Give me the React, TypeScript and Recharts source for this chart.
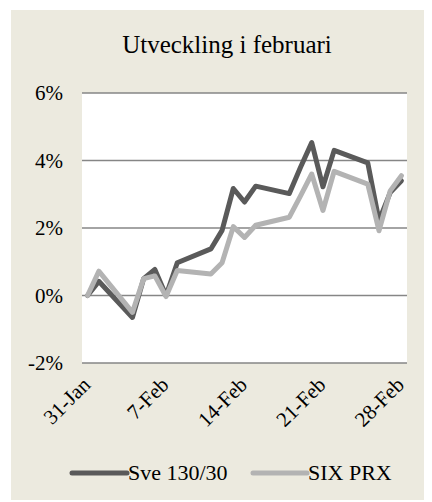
import React from "react";
import { LineChart, Line, XAxis, YAxis, CartesianGrid, Legend, Customized } from "recharts";

// Trading days in February 2008, as day offsets from 31-Jan
const dayOffsets = [0, 1, 4, 5, 6, 7, 8, 11, 12, 13, 14, 15, 18, 19, 20, 21, 22, 25, 26, 27, 28];
const sveValues = [0, 0.42, -0.65, 0.5, 0.77, 0.0, 0.97, 1.38, 1.93, 3.17, 2.77, 3.24, 3.02, 3.8, 4.53, 3.22, 4.3, 3.93, 2.22, 3.05, 3.4];
const sixValues = [0, 0.72, -0.5, 0.5, 0.58, -0.03, 0.74, 0.64, 0.97, 2.04, 1.72, 2.08, 2.32, 2.95, 3.6, 2.52, 3.68, 3.3, 1.92, 3.1, 3.55];
const xTickDays = [0, 7, 14, 21, 28];
const xTickLabels = ["31-Jan", "7-Feb", "14-Feb", "21-Feb", "28-Feb"];
const yTicks = [-2, 0, 2, 4, 6];
const seriesNames = ["Sve 130/30", "SIX PRX"];

const data = dayOffsets.map((d, i) => ({ day: d, sve: sveValues[i], six: sixValues[i] }));

const FONT = "'Liberation Serif', 'Times New Roman', serif";
const DARK = "#5a5a5a";
const LIGHT = "#b3b3b3";
const serif = { fontFamily: FONT };

const XTick = (props: any) => {
  const { x, y, payload } = props;
  const idx = xTickDays.indexOf(payload.value);
  return (
    <text
      x={x + 4}
      y={y + 23}
      transform={`rotate(-45, ${x + 4}, ${y + 23})`}
      textAnchor="end"
      style={serif}
      fontSize={21}
      fill="#000"
    >
      {idx >= 0 ? xTickLabels[idx] : ""}
    </text>
  );
};

const YTick = (props: any) => {
  const { x, y, payload } = props;
  return (
    <text x={x} y={y} dy="0.35em" textAnchor="end" style={serif} fontSize={21} fill="#000">
      {`${payload.value}%`}
    </text>
  );
};

const Title = () => (
  <text x={219} y={45} textAnchor="middle" style={serif} fontSize={25} fill="#000">
    Utveckling i februari
  </text>
);

const LegendContent = () => (
  <svg width={399} height={30} style={{ display: "block" }}>
    <line x1={64} y1={15} x2={119} y2={15} stroke={DARK} strokeWidth={5} strokeLinecap="round" />
    <text x={120} y={22} style={serif} fontSize={22} fill="#000">{seriesNames[0]}</text>
    <line x1={245} y1={15} x2={299} y2={15} stroke={LIGHT} strokeWidth={5} strokeLinecap="round" />
    <text x={300} y={22} style={serif} fontSize={22} fill="#000">{seriesNames[1]}</text>
  </svg>
);

export default function App() {
  return (
    <div style={{ position: "relative", width: 424, height: 494, fontFamily: FONT }}>
      <div style={{ position: "absolute", left: 3, top: 2, width: 421, height: 490, background: "#ECEADF" }} />
      <div style={{ position: "absolute", left: 0, top: 0 }}>
        <LineChart width={424} height={494} data={data} margin={{ top: 85, right: 25, bottom: 14, left: 0 }}>
          <CartesianGrid horizontal vertical={false} stroke="#868686" strokeWidth={1.5} fill="#ffffff" />
          <XAxis
            dataKey="day"
            type="number"
            domain={[-0.5, 28.5]}
            ticks={xTickDays}
            interval={0}
            axisLine={false}
            tickLine={false}
            tickSize={0}
            tickMargin={0}
            height={95}
            tick={<XTick />}
          />
          <YAxis
            type="number"
            domain={[-2, 6]}
            ticks={yTicks}
            width={74}
            axisLine={false}
            tickLine={false}
            tickSize={0}
            tickMargin={19}
            tick={<YTick />}
          />
          <Line dataKey="sve" name={seriesNames[0]} stroke={DARK} strokeWidth={5} dot={false} isAnimationActive={false} strokeLinejoin="round" strokeLinecap="round" />
          <Line dataKey="six" name={seriesNames[1]} stroke={LIGHT} strokeWidth={5} dot={false} isAnimationActive={false} strokeLinejoin="round" strokeLinecap="round" />
          <Legend verticalAlign="bottom" height={30} content={<LegendContent />} />
          <Customized component={<Title />} />
        </LineChart>
      </div>
    </div>
  );
}
